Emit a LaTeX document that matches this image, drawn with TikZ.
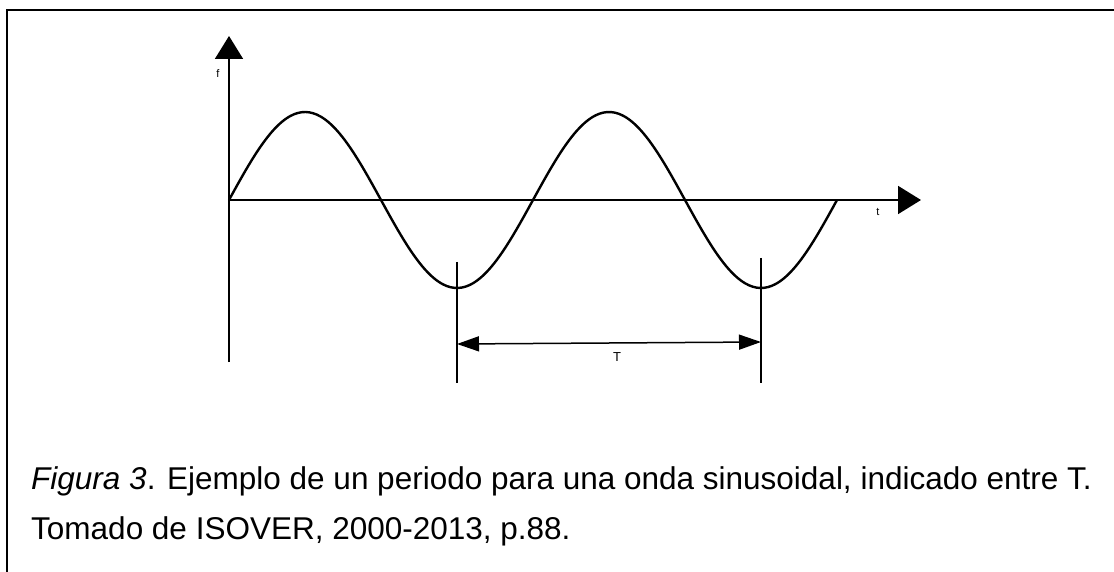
\documentclass[tikz,border=0pt]{standalone}
\usepackage{fontspec}
\setmainfont{Liberation Sans}
\usetikzlibrary{arrows.meta}
\begin{document}
\begin{tikzpicture}[x=1pt,y=-1pt,
  axis/.style={line width=1.8pt,-{Triangle[length=23pt,width=28pt]}},
  wave/.style={line width=2.4pt},
  guide/.style={line width=1.5pt},
  dim/.style={line width=1.5pt,{Triangle[length=22pt,width=15pt]}-{Triangle[length=22pt,width=15pt]}},
  frame/.style={line width=2.2pt},
  small/.style={font=\fontsize{11}{12}\selectfont,inner sep=0pt},
  caption/.style={font=\fontsize{31.5}{36}\selectfont,anchor=base west,inner sep=0pt}]
\useasboundingbox (0,0) rectangle (1114,572);
% frame (open box)
\coordinate (fbl) at (7,572);
\coordinate (ftl) at (7,10);
\coordinate (ftr) at (1114,10);
\draw[frame] (fbl) -- (ftl) -- (ftr);
% axes
\coordinate (ybot) at (229,362);
\coordinate (ytop) at (229,36);
\coordinate (o) at (229,200);
\coordinate (xend) at (921,200);
\draw[axis] (ybot) -- (ytop);
\draw[axis] (o) -- (xend);
\node[small] (f) at (218,74) {f};
\node[small] (t) at (878,212) {t};
% wave
\draw[wave] plot[domain=0:2,samples=160,smooth] ({229+304*\x},{200-88*sin(360*\x)});
% guides
\coordinate (g1t) at (457,262);
\coordinate (g1b) at (457,383);
\coordinate (g2t) at (761,258);
\coordinate (g2b) at (761,383);
\draw[guide] (g1t) -- (g1b);
\draw[guide] (g2t) -- (g2b);
\coordinate (d1) at (457,344);
\coordinate (d2) at (761,342);
\draw[dim] (d1) -- (d2);
\node[small,font=\fontsize{13}{14}\selectfont] (T) at (617,357) {T};
% caption
\node[caption] (c1) at (31,489) {\textit{Figura 3}. Ejemplo de un periodo para una onda sinusoidal, indicado entre T.};
\node[caption] (c2) at (31,539) {Tomado de ISOVER, 2000-2013, p.88.};
\end{tikzpicture}
\end{document}
